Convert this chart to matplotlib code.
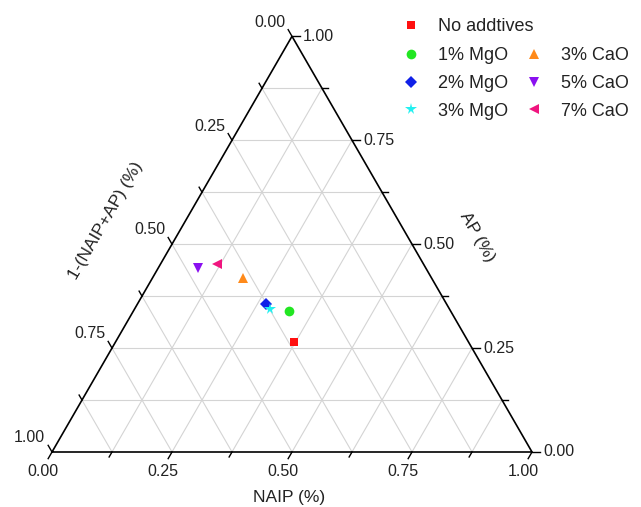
import numpy as np
import matplotlib
matplotlib.use("Agg")
import matplotlib.pyplot as plt

plt.rcParams['font.family'] = ['Liberation Sans', 'DejaVu Sans']

# ---- data (ternary: NAIP, AP; third = 1-(NAIP+AP)) ----
labels = ["No addtives", "1% MgO", "2% MgO", "3% MgO", "3% CaO", "5% CaO", "7% CaO"]
naip = [0.372, 0.325, 0.268, 0.281, 0.189, 0.083, 0.117]
ap = [0.265, 0.339, 0.356, 0.345, 0.419, 0.442, 0.452]
markers = ["s", "o", "D", "*", "^", "v", "<"]
colors = ["#ff1010", "#22e622", "#1020e8", "#22f0f0", "#ff8a1a", "#8a10f0", "#f0157f"]
msizes = [6, 7, 6, 8.5, 7.5, 7.5, 7.5]

tick_vals = [0.0, 0.25, 0.5, 0.75, 1.0]
tick_labels = ["0.00", "0.25", "0.50", "0.75", "1.00"]

H = np.sqrt(3) / 2


def tern(n, a):
    n = np.asarray(n, float)
    a = np.asarray(a, float)
    return n + a / 2, a * H


W, Hpx = 641, 507
fig = plt.figure(figsize=(W / 100, Hpx / 100), dpi=100)
ax = fig.add_axes([0, 0, 1, 1])
x0, ybase, scale = 52, 452, 480
ax.set_xlim(-x0 / scale, (W - x0) / scale)
ax.set_ylim(-(Hpx - ybase) / scale, ybase / scale)
ax.axis('off')

# grid
gc = "#d4d4d4"
for i in range(1, 8):
    v = i / 8
    # constant AP
    xs, ys = tern([0, 1 - v], [v, v])
    ax.plot(xs, ys, color=gc, lw=0.8, zorder=1)
    # constant NAIP
    xs, ys = tern([v, v], [0, 1 - v])
    ax.plot(xs, ys, color=gc, lw=0.8, zorder=1)
    # constant C
    xs, ys = tern([1 - v, 0], [0, 1 - v])
    ax.plot(xs, ys, color=gc, lw=0.8, zorder=1)

# triangle edges
xs, ys = tern([0, 1, 0, 0], [0, 0, 1, 0])
ax.plot(xs, ys, color="black", lw=1.2, zorder=3, solid_joinstyle='miter')

# ticks
tl = 0.016
dirs_bottom = np.array([-0.5, -H])
dirs_right = np.array([1.0, 0.0])
dirs_left = np.array([-0.5, H])
for i in range(9):
    v = i / 8
    L = tl if i % 2 == 0 else tl * 0.75
    # bottom (NAIP)
    px, py = tern(v, 0)
    ax.plot([px, px + dirs_bottom[0] * L], [py, py + dirs_bottom[1] * L], color="black", lw=1.0, zorder=3)
    # right (AP)
    px, py = tern(1 - v, v)
    ax.plot([px, px + dirs_right[0] * L], [py, py + dirs_right[1] * L], color="black", lw=1.0, zorder=3)
    # left (C)
    px, py = tern(0, 1 - v)
    ax.plot([px, px + dirs_left[0] * L], [py, py + dirs_left[1] * L], color="black", lw=1.0, zorder=3)

fs = 11.5
for v, s in zip(tick_vals, tick_labels):
    px, py = tern(v, 0)
    ax.text(px - 0.019, py - 0.026, s, ha='center', va='top', fontsize=fs, color="#222222")
    px, py = tern(1 - v, v)
    ax.text(px + 0.023, py, s, ha='left', va='center', fontsize=fs, color="#222222")
    px, py = tern(0, 1 - v)
    ax.text(px - 0.014, py + 0.014, s, ha='right', va='bottom', fontsize=fs, color="#222222")

# axis titles
ax.text(0.493, -0.095, "NAIP (%)", ha='center', va='center', fontsize=12.5, color="#222222")
ax.text(0.1125, 0.483, "1-(NAIP+AP) (%)", ha='center', va='center', rotation=60,
        fontsize=12.5, color="#222222", rotation_mode='anchor')
ax.text(0.885, 0.448, "AP (%)", ha='center', va='center', rotation=-60,
        fontsize=12.5, color="#222222", rotation_mode='anchor')

# data points
handles = []
for n, a, m, c, ms, lab in zip(naip, ap, markers, colors, msizes, labels):
    px, py = tern(n, a)
    h, = ax.plot([px], [py], linestyle='none', marker=m, color=c, markersize=ms,
                 markeredgewidth=0, label=lab, zorder=5)
    handles.append(h)

leg_kw = dict(frameon=False, loc='upper left', borderaxespad=0, borderpad=0,
              handlelength=1.0, handletextpad=1.0, fontsize=13, labelcolor="#222222")
leg1 = ax.legend(handles=handles[:1], bbox_to_anchor=(402 / W, 1 - 18 / Hpx),
                 bbox_transform=fig.transFigure, **leg_kw)
ax.add_artist(leg1)
ax.legend(handles=handles[1:], ncol=2, bbox_to_anchor=(402 / W, 1 - 47 / Hpx),
          bbox_transform=fig.transFigure, labelspacing=0.6, columnspacing=0.9, **leg_kw)

fig.savefig("out.png", dpi=100)
